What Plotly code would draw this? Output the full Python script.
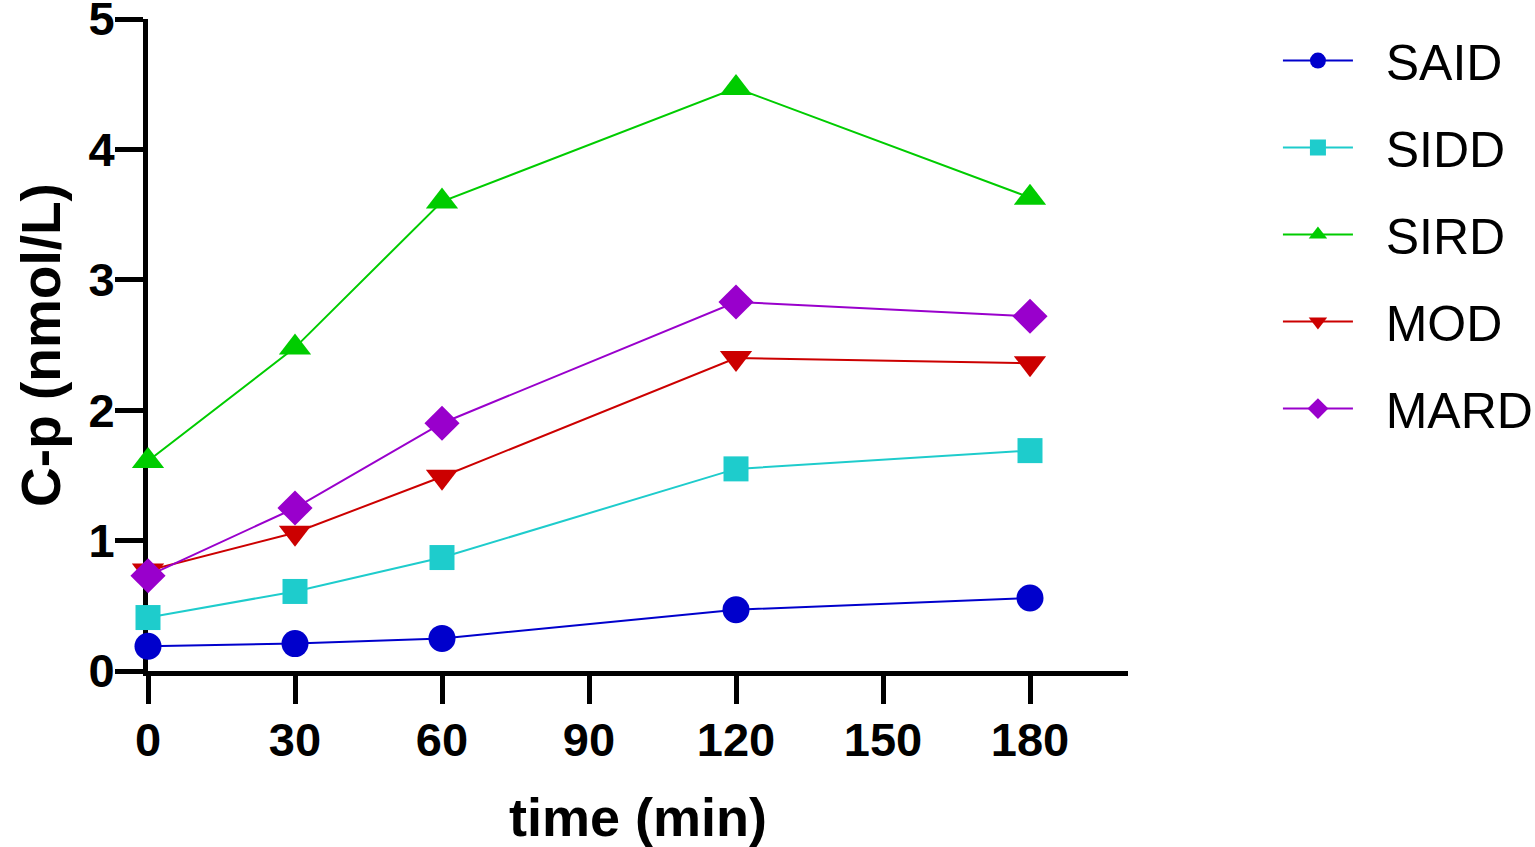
import plotly.graph_objects as go

# time points (min)
time_min = [0, 30, 60, 120, 180]

# C-peptide (nmol/L) per subgroup
said = [0.19, 0.21, 0.25, 0.47, 0.56]
sidd = [0.41, 0.61, 0.87, 1.55, 1.69]
sird = [1.61, 2.48, 3.60, 4.47, 3.63]
mod = [0.77, 1.06, 1.49, 2.40, 2.36]
mard = [0.73, 1.25, 1.90, 2.83, 2.72]

groups = ["SAID", "SIDD", "SIRD", "MOD", "MARD"]
series = [said, sidd, sird, mod, mard]
colors = ["#0000CC", "#1ECCCC", "#00CC00", "#CC0000", "#9900CC"]
symbols = ["circle", "square", "triangle-up", "triangle-down", "diamond"]
sizes = [27, 25, 28, 28, 27]

font_bold = "Liberation Sans, Arial"

fig = go.Figure()
for name, vals, col, sym, sz in zip(groups, series, colors, symbols, sizes):
    fig.add_trace(go.Scatter(
        x=time_min, y=vals, name="\u00a0\u00a0" + name, mode="lines+markers",
        line=dict(color=col, width=2),
        marker=dict(symbol=sym, size=sz, color=col),
        cliponaxis=False, legendgroup=name,
    ))

axis_common = dict(
    showline=True, linecolor="black", linewidth=5,
    ticks="outside", ticklen=28, tickwidth=5, tickcolor="black",
    showgrid=False, zeroline=False, layer="below traces",
    automargin=False, ticklabeloverflow="allow",
    tickfont=dict(family=font_bold, size=47, color="black", weight="bold"),
)

fig.update_layout(
    width=1535, height=847,
    paper_bgcolor="white", plot_bgcolor="white",
    margin=dict(l=148, r=407, t=19, b=176, autoexpand=False),
    xaxis=dict(range=[0, 200], tickvals=[0, 30, 60, 90, 120, 150, 180],
               ticklabelstandoff=-4,
               title=dict(text="time (min)", standoff=34,
                          font=dict(family=font_bold, size=54, color="black", weight="bold")),
               **axis_common),
    yaxis=dict(range=[0, 5], tickvals=[0, 1, 2, 3, 4, 5],
               ticklabelstandoff=-9,
               title=dict(text="C-p (nmol/L)", standoff=12,
                          font=dict(family=font_bold, size=55, color="black", weight="bold")),
               **axis_common),
    legend=dict(x=1.153, y=0.996, xanchor="left", yanchor="top",
                font=dict(family="Liberation Sans, Arial", size=50, color="black"),
                tracegroupgap=19, itemsizing="trace", itemwidth=70),
)

# drop the default 8px page margin so the figure sits at the window's corner
fig.write_html("out.html", config={"displayModeBar": False},
               post_script="document.body.style.margin='0';")
